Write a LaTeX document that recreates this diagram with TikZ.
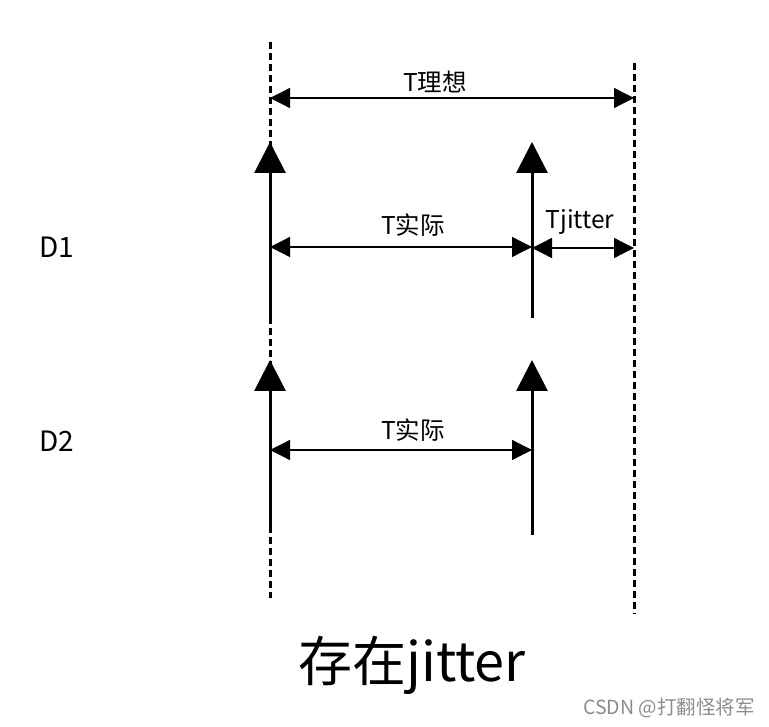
\documentclass[tikz,border=0pt]{standalone}
\usepackage{fontspec}
\setmainfont{Noto Sans CJK SC}
\usetikzlibrary{arrows.meta}
\begin{document}
\begin{tikzpicture}[x=1pt,y=-1pt,
  guide/.style={line width=3pt,dash pattern=on 7pt off 4pt},
  pulse/.style={line width=3pt,-{Triangle[length=31pt,width=31pt]}},
  span/.style={line width=1.3pt,{Triangle[length=20pt,width=20pt]}-{Triangle[length=20pt,width=20pt]}},
  lbl/.style={font=\fontsize{24.5}{28}\selectfont,inner sep=0pt},
  sig/.style={font=\fontsize{28}{32}\selectfont,inner sep=0pt}]
\useasboundingbox (0,0) rectangle (769,727);
% guide lines
\coordinate (Ltop) at (270,42);
\coordinate (Lbot) at (270,598);
\coordinate (Rtop) at (634,63);
\coordinate (Rbot) at (634,614);
\draw[guide] (Ltop) -- (Lbot);
\draw[guide] (Rtop) -- (Rbot);
% pulses
\coordinate (a1b) at (270,320); \coordinate (a1t) at (270,142);
\coordinate (b1b) at (532,318); \coordinate (b1t) at (532,142);
\coordinate (a2b) at (270,533); \coordinate (a2t) at (270,360);
\coordinate (b2b) at (532,535); \coordinate (b2t) at (532,360);
\draw[pulse] (a1b) -- (a1t);
\draw[pulse] (b1b) -- (b1t);
\draw[pulse] (a2b) -- (a2t);
\draw[pulse] (b2b) -- (b2t);
% spans
\coordinate (s0l) at (270,98); \coordinate (s0r) at (634,98);
\coordinate (s1l) at (270,247); \coordinate (s1r) at (532,247);
\coordinate (s2l) at (532,248); \coordinate (s2r) at (634,248);
\coordinate (s3l) at (270,450); \coordinate (s3r) at (532,450);
\draw[span] (s0l) -- (s0r);
\draw[span] (s1l) -- (s1r);
\draw[span] (s2l) -- (s2r);
\draw[span] (s3l) -- (s3r);
% labels
\node[lbl] (tideal) at (435,82) {T理想};
\node[lbl] (tact1) at (413,225) {T实际};
\node[lbl] (tjit) at (580,222) {Tjitter};
\node[lbl] (tact2) at (413,430) {T实际};
\node[sig] (d1) at (57,247) {D1};
\node[sig] (d2) at (57,441) {D2};
\node[inner sep=0pt,font=\fontsize{54}{60}\selectfont] (title) at (412,665) {存在jitter};
\node[inner sep=0pt,font=\fontsize{19.5}{22}\selectfont,text=black!45] (wm) at (669,708) {CSDN @打翻怪将军};
\end{tikzpicture}
\end{document}
